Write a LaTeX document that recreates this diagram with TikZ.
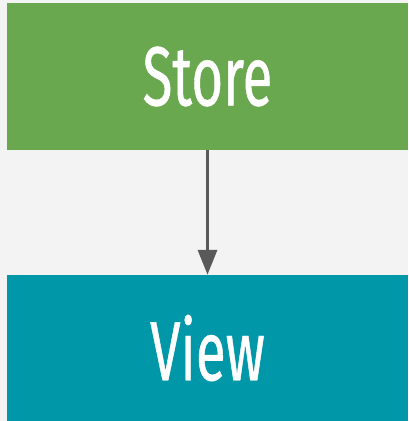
\documentclass[tikz,border=0pt]{standalone}
\usepackage{fontspec}
\setmainfont[FakeStretch=0.65, FakeBold=0.5]{Fira Sans}
\usepackage{xcolor}
\usetikzlibrary{arrows.meta, positioning}
\definecolor{storegreen}{HTML}{6AA84F}
\definecolor{viewteal}{HTML}{0098A8}
\definecolor{bggray}{HTML}{F3F3F3}
\definecolor{arrowgray}{HTML}{595959}
\tikzset{
  block/.style={draw=none, inner sep=0pt, minimum width=401pt, minimum height=147pt,
    text=white, font=\fontsize{84}{90}\selectfont},
  flow/.style={-{Triangle[length=25pt, width=19pt]}, line width=3.2pt, draw=arrowgray}
}

\begin{document}
\begin{tikzpicture}[x=1pt, y=1pt]
  % page background
  \fill[bggray] (0,0) rectangle (408,421);
  \useasboundingbox (0,0) rectangle (408,421);
  % the two blocks
  \node[block, fill=storegreen] (store) at (207.5,344.5) {Store};
  \node[block, fill=viewteal, minimum height=146pt] (view) at (207.5,73) {View};
  % data flow
  \draw[flow] (store.south) -- (view.north);
\end{tikzpicture}
\end{document}
